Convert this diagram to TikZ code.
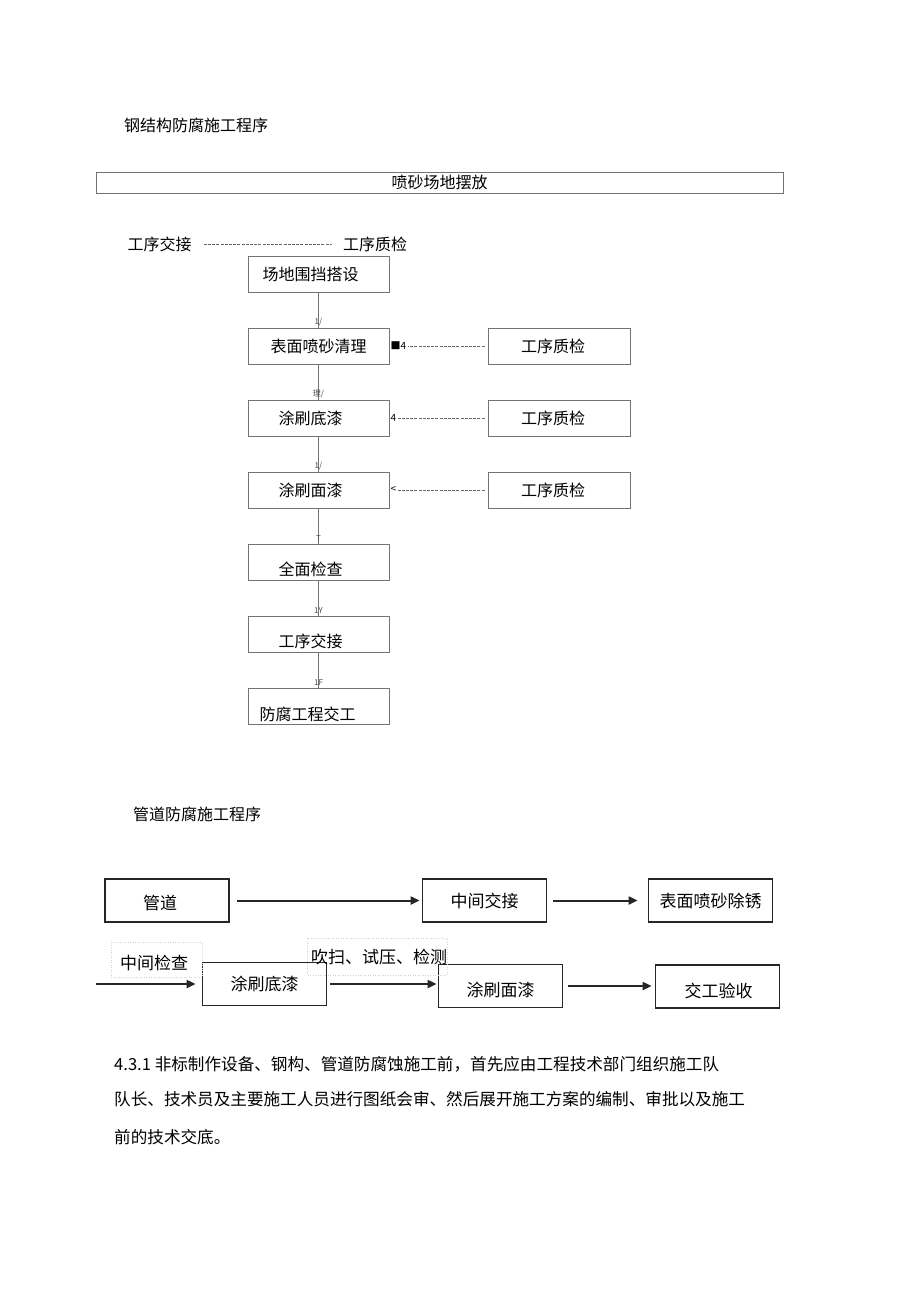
\documentclass[tikz,border=0pt]{standalone}
\usepackage{fontspec}
\setmainfont{Noto Sans CJK SC}
\usetikzlibrary{arrows.meta,calc}
\tikzset{
  font={\fontsize{16pt}{18pt}\selectfont},
  stepbox/.style={draw=black!55, line width=0.9pt, minimum width=141pt, minimum height=36pt, inner sep=0pt},
  checkbox/.style={stepbox, minimum width=142pt},
  pipebox/.style={draw=black!85, line width=1.8pt, minimum width=124pt, minimum height=43pt, inner sep=0pt},
  big/.style={font={\fontsize{17pt}{19pt}\selectfont}},
  para/.style={anchor=west, font={\fontsize{16.6pt}{19pt}\selectfont}},
  tick/.style={font={\fontsize{8pt}{9pt}\selectfont}, inner sep=0pt, text=black!70},
  mark4/.style={anchor=west, font={\fontsize{10pt}{11pt}\selectfont}},
  link/.style={draw=black!55, line width=0.9pt},
  qline/.style={draw=black!60, line width=0.7pt, dash pattern=on 3pt off 1.2pt},
  flow/.style={draw=black!85, line width=2pt, -{Triangle[length=9pt,width=8pt]}},
  faint/.style={draw=black!18, line width=0.5pt, dotted}}

\begin{document}
\begin{tikzpicture}[x=1pt,y=-1pt]
\tikzstyle{every node}+=[inner sep=0pt]
\fill[white] (0,0) rectangle (920,1304);
\useasboundingbox (0,0) rectangle (920,1304);

\node[anchor=west] (title1) at (124,125) {钢结构防腐施工程序};
\node[draw=black!55, line width=0.9pt, minimum width=687pt, minimum height=21pt] (site) at (439.5,182.5) {喷砂场地摆放};
\node (h1) at (159.5,244) {工序交接};
\node (h2) at (375,244) {工序质检};
\draw[qline] ($(h1.east)+(12,0)$) -- ($(h2.west)+(-11,0)$);

\node[stepbox, label={[name=t1,xshift=-8pt]center:场地围挡搭设}] (b1) at (318.5,274) {};
\node[stepbox] (b2) at (318.5,346) {表面喷砂清理};
\node[stepbox, label={[name=t3,xshift=-8pt]center:涂刷底漆}] (b3) at (318.5,418) {};
\node[stepbox, label={[name=t4,xshift=-8pt]center:涂刷面漆}] (b4) at (318.5,490) {};
\node[stepbox, label={[name=t5,xshift=-8pt,yshift=-7pt]center:全面检查}] (b5) at (318.5,562) {};
\node[stepbox, label={[name=t6,xshift=-8pt,yshift=-7pt]center:工序交接}] (b6) at (318.5,634) {};
\node[stepbox, label={[name=t7,xshift=-11pt,yshift=-8pt]center:防腐工程交工}] (b7) at (318.5,706) {};

\node[checkbox, label={[name=c1,xshift=-6pt]center:工序质检}] (q1) at (559,346) {};
\node[checkbox, label={[name=c2,xshift=-6pt]center:工序质检}] (q2) at (559,418) {};
\node[checkbox, label={[name=c3,xshift=-6pt]center:工序质检}] (q3) at (559,490) {};

\draw[link] (b1) -- node[tick, pos=0.85, name=k1] {1/} (b2);
\draw[link] (b2) -- node[tick, pos=0.85, name=k2] {理/} (b3);
\draw[link] (b3) -- node[tick, pos=0.85, name=k3] {1/} (b4);
\draw[link] (b4) -- node[tick, pos=0.85, name=k4] {T} (b5);
\draw[link] (b5) -- node[tick, pos=0.85, name=k5] {1Y} (b6);
\draw[link] (b6) -- node[tick, pos=0.85, name=k6] {1F} (b7);

\node[mark4] (m1) at ($(b2.east)+(1,0)$) {■4};
\node[mark4] (m2) at ($(b3.east)+(1,0)$) {4};
\node[mark4] (m3) at ($(b4.east)+(1,0)$) {<};
\draw[qline] ($(q1.west)+(-3,0)$) -- ($(m1.east)+(2,0)$);
\draw[qline] ($(q2.west)+(-3,0)$) -- ($(m2.east)+(1,0)$);
\draw[qline] ($(q3.west)+(-3,0)$) -- ($(m3.east)+(1,0)$);

\node[anchor=west] (title2) at (133,814) {管道防腐施工程序};

\node[pipebox, big, label={[name=u1,big,xshift=-7pt,yshift=-3pt]center:管道}] (p1) at (167,900.5) {};
\node[pipebox, big] (p2) at (484.5,900.5) {中间交接};
\node[pipebox, big] (p3) at (710.5,900.5) {表面喷砂除锈};
\node[pipebox, big] (p4) at (264.5,984) {涂刷底漆};
\node[pipebox, label={[name=u5,big,yshift=-4pt]center:涂刷面漆}] (p5) at (500.5,986) {};
\node[pipebox, label={[name=u6,big,xshift=1pt,yshift=-4pt]center:交工验收}] (p6) at (717.5,986.5) {};

\draw[faint] (111,942) rectangle (202,977);
\node[big] (n1) at (154,963) {中间检查};
\draw[faint] (307,938) rectangle (447,975);
\node[big] (n2) at (379,957) {吹扫、试压、检测};
\coordinate (in) at (96,984);

\draw[flow, shorten <=7pt, shorten >=2pt] (p1.east) -- (p2.west |- p1.east);
\draw[flow, shorten <=6pt, shorten >=10pt] (p2.east) -- (p3.west |- p2.east);
\draw[flow, shorten >=6pt] (in) -- (p4.west |- in);
\draw[flow, shorten <=3pt, shorten >=1pt] (p4.east) -- (p5.west |- p4.east);
\draw[flow, shorten <=5pt, shorten >=3pt] (p5.east) -- (p6.west |- p5.east);

\node[para] (par1) at (114,1064) {4.3.1 非标制作设备、钢构、管道防腐蚀施工前，首先应由工程技术部门组织施工队};
\node[para] (par2) at (114,1099) {队长、技术员及主要施工人员进行图纸会审、然后展开施工方案的编制、审批以及施工};
\node[para] (par3) at (114,1137) {前的技术交底。};
\end{tikzpicture}
\end{document}
